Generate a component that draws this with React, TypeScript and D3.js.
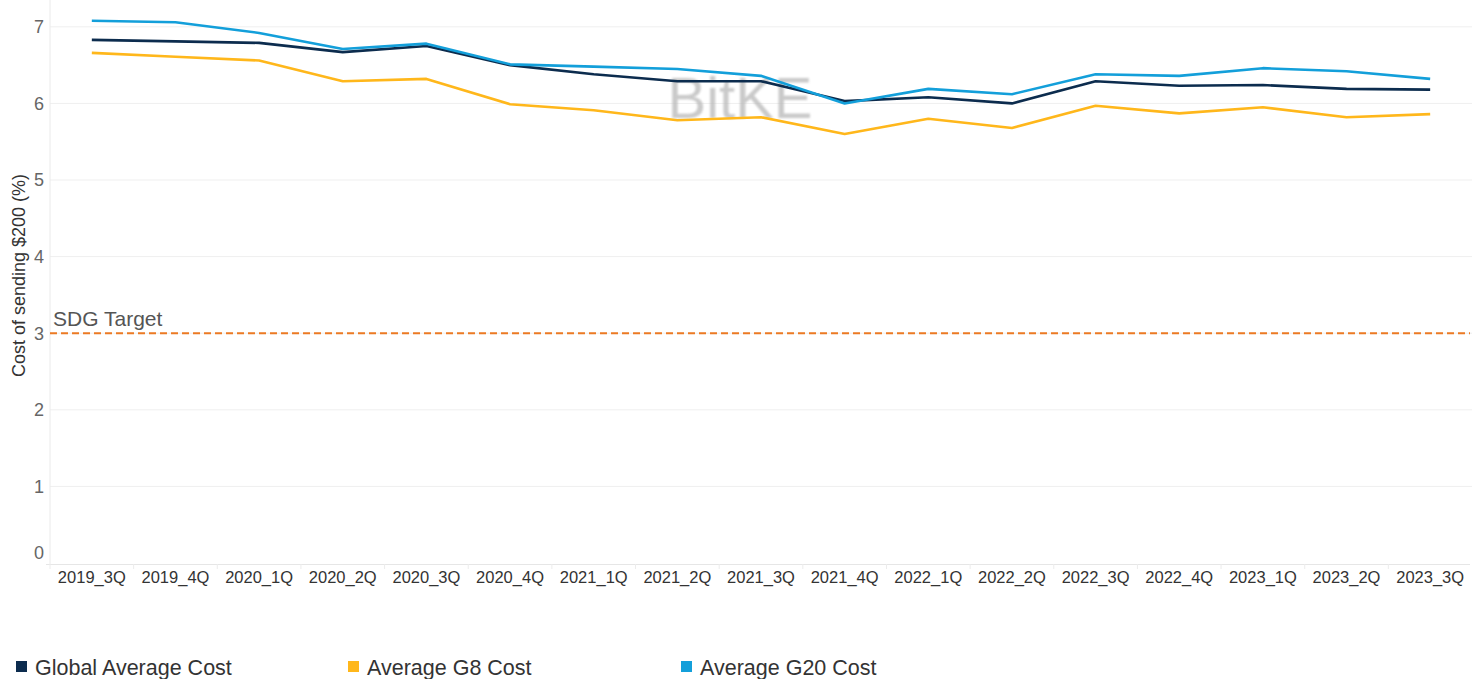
import React from 'react';
import * as d3 from 'd3';

// Remittance cost (% of sending $200), by quarter
const QUARTERS = [
  '2019_3Q', '2019_4Q', '2020_1Q', '2020_2Q', '2020_3Q', '2020_4Q',
  '2021_1Q', '2021_2Q', '2021_3Q', '2021_4Q', '2022_1Q', '2022_2Q',
  '2022_3Q', '2022_4Q', '2023_1Q', '2023_2Q', '2023_3Q',
];

const GLOBAL_AVG = [6.83, 6.81, 6.79, 6.67, 6.75, 6.50, 6.38, 6.29, 6.29, 6.03, 6.08, 6.00, 6.29, 6.23, 6.24, 6.19, 6.18];
const G8_AVG = [6.66, 6.61, 6.56, 6.29, 6.32, 5.99, 5.91, 5.78, 5.82, 5.60, 5.80, 5.68, 5.97, 5.87, 5.95, 5.82, 5.86];
const G20_AVG = [7.08, 7.06, 6.92, 6.71, 6.78, 6.51, 6.48, 6.45, 6.36, 6.00, 6.19, 6.12, 6.38, 6.36, 6.46, 6.42, 6.32];

const Y_TICKS = [0, 1, 2, 3, 4, 5, 6, 7];
const SDG_TARGET = 3;

const SERIES = [
  { name: 'Global Average Cost', values: GLOBAL_AVG, color: '#0c2c4e' },
  { name: 'Average G8 Cost', values: G8_AVG, color: '#ffb71b' },
  { name: 'Average G20 Cost', values: G20_AVG, color: '#139fda' },
];

const W = 1481;
const H = 679;
const FONT = '"Liberation Sans", Arial, sans-serif';

export default function App() {
  const left = 50;
  const right = 1472;
  const top = 0;
  const bottom = 563;

  const x = d3.scaleBand<string>().domain(QUARTERS).range([left, right]);
  const y = d3.scaleLinear().domain([0, 7.35]).range([bottom, top]);

  const line = d3
    .line<number>()
    .x((_, i) => (x(QUARTERS[i]) as number) + x.bandwidth() / 2)
    .y((d) => y(d));

  const legendX = [16, 348, 681];

  return (
    <div style={{ position: 'absolute', left: 0, top: 0 }}>
      <svg width={W} height={H} style={{ display: 'block', fontFamily: FONT }}>
        <rect width={W} height={H} fill="#fff" />

        {/* gridlines */}
        {Y_TICKS.filter((t) => t > 0).map((t) => (
          <line key={t} x1={left} x2={right} y1={y(t)} y2={y(t)} stroke="#efefef" strokeWidth={1} />
        ))}

        {/* axes */}
        <line x1={left} x2={left} y1={top} y2={bottom + 1} stroke="#eaeaea" />
        <line x1={left - 4} x2={right - 2} y1={bottom + 1.5} y2={bottom + 1.5} stroke="#e6e6e6" />
        {QUARTERS.map((q) => (
          <line key={q} x1={x(q) as number} x2={x(q) as number} y1={bottom + 1} y2={bottom + 6} stroke="#ececec" />
        ))}

        {/* y tick labels */}
        {Y_TICKS.map((t) => (
          <text
            key={t}
            x={44}
            y={t === 0 ? y(t) - 10 : y(t)}
            dy="0.36em"
            textAnchor="end"
            fontSize={18}
            fill="#666"
          >
            {t}
          </text>
        ))}

        <text
          transform={`translate(25, ${(top + bottom) / 2 - 6}) rotate(-90)`}
          textAnchor="middle"
          fontSize={18}
          fill="#333"
        >
          Cost of sending $200 (%)
        </text>

        {/* x tick labels */}
        {QUARTERS.map((q) => (
          <text
            key={q}
            x={(x(q) as number) + x.bandwidth() / 2}
            y={583}
            textAnchor="middle"
            fontSize={16.5}
            fill="#333"
          >
            {q}
          </text>
        ))}

        {/* watermark */}
        <text
          x={740}
          y={118}
          textAnchor="middle"
          fontSize={58}
          fill="#b8b8b8"
          opacity={0.75}
          style={{ filter: 'blur(1.2px)' }}
        >
          BitKE
        </text>

        {/* SDG target */}
        <line
          x1={left}
          x2={right - 2}
          y1={y(SDG_TARGET)}
          y2={y(SDG_TARGET)}
          stroke="#ec7a23"
          strokeWidth={2}
          strokeDasharray="7 4"
        />
        <text x={53} y={y(SDG_TARGET) - 7} fontSize={21} fill="#555">
          SDG Target
        </text>

        {/* series lines */}
        {SERIES.map((s) => (
          <path
            key={s.name}
            d={line(s.values) || ''}
            fill="none"
            stroke={s.color}
            strokeWidth={2.6}
            strokeLinejoin="round"
          />
        ))}

        {/* legend */}
        {SERIES.map((s, i) => (
          <g key={s.name} transform={`translate(${legendX[i]}, 667)`}>
            <rect x={0} y={-6} width={11} height={11} fill={s.color} />
            <text x={19} y={0} dy="0.36em" fontSize={21.5} fill="#333">
              {s.name}
            </text>
          </g>
        ))}
      </svg>
    </div>
  );
}
